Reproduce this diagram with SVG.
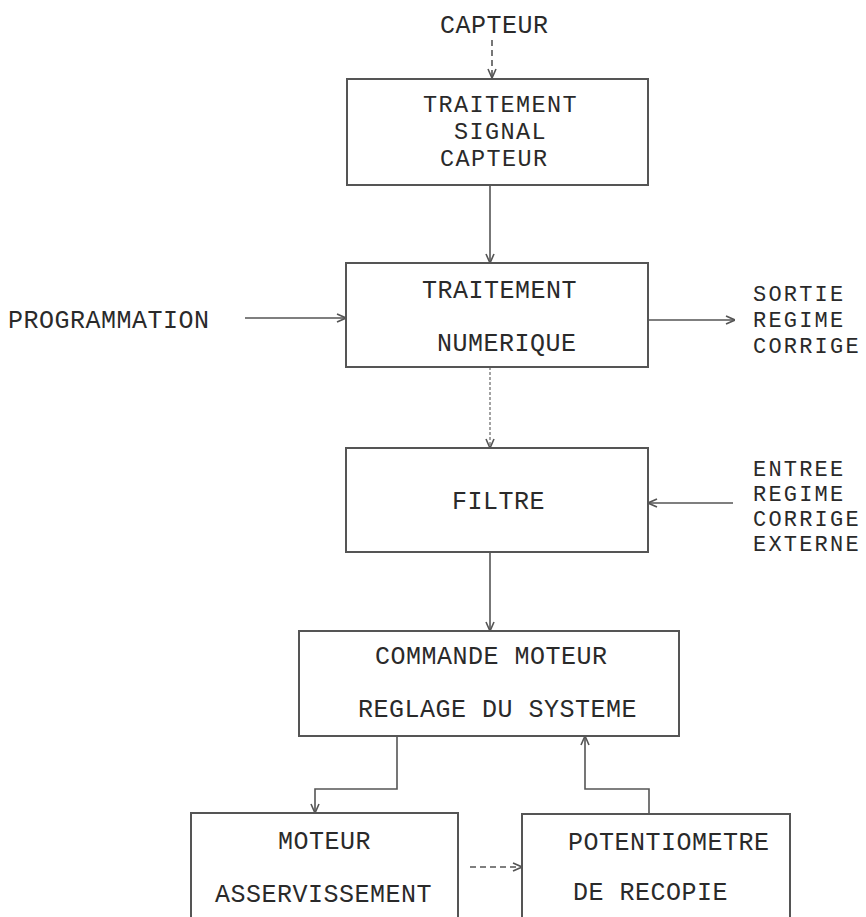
<svg xmlns="http://www.w3.org/2000/svg" width="866" height="917" viewBox="0 0 866 917">
<style>
.box{fill:#fff;stroke:#555;stroke-width:2}
.t{font-family:"Liberation Mono","DejaVu Sans Mono",monospace;font-size:25px;letter-spacing:0.5px;fill:#2a2a2a}
.m{font-family:"Liberation Mono","DejaVu Sans Mono",monospace;font-size:23.5px;letter-spacing:1.4px;fill:#2a2a2a}
.s{font-family:"Liberation Mono","DejaVu Sans Mono",monospace;font-size:22px;letter-spacing:2.2px;fill:#2a2a2a}
.c{fill:none;stroke:#555;stroke-width:1.6}
.d{fill:none;stroke:#555;stroke-width:1.6;stroke-dasharray:6 4}
.dot{fill:none;stroke:#666;stroke-width:1.2;stroke-dasharray:3 2}
</style>
<defs>
<marker id="ah" viewBox="0 0 10 10" refX="10" refY="5" markerWidth="10" markerHeight="10" markerUnits="userSpaceOnUse" orient="auto">
<path d="M1,1 L10,5 L1,9" fill="none" stroke="#555" stroke-width="1.6"/>
</marker>
</defs>
<rect width="866" height="917" fill="#fff"/>
<g id="connectors">
<line class="d" x1="492" y1="40" x2="492" y2="78" marker-end="url(#ah)"/>
<line class="c" x1="490" y1="185" x2="490" y2="263" marker-end="url(#ah)"/>
<line class="c" x1="245" y1="318" x2="346" y2="318" marker-end="url(#ah)"/>
<line class="c" x1="648" y1="320" x2="735" y2="320" marker-end="url(#ah)"/>
<line class="dot" x1="490" y1="367" x2="490" y2="448" marker-end="url(#ah)"/>
<line class="c" x1="733" y1="503" x2="648" y2="503" marker-end="url(#ah)"/>
<line class="c" x1="490" y1="552" x2="490" y2="631" marker-end="url(#ah)"/>
<polyline class="c" points="397,736 397,789 315,789 315,813" marker-end="url(#ah)"/>
<polyline class="c" points="649,814 649,789 585,789 585,736" marker-end="url(#ah)"/>
<line class="d" x1="470" y1="867" x2="522" y2="867" marker-end="url(#ah)"/>
</g>
<g id="capteur-in"><text class="t" x="440" y="33">CAPTEUR</text></g>
<g id="traitement-signal">
<rect class="box" x="347" y="79" width="301" height="106"/>
<text class="m" x="423" y="112">TRAITEMENT</text>
<text class="m" x="454" y="139">SIGNAL</text>
<text class="m" x="440" y="166">CAPTEUR</text>
</g>
<g id="programmation"><text class="t" x="8" y="328">PROGRAMMATION</text></g>
<g id="traitement-numerique">
<rect class="box" x="346" y="263" width="302" height="104"/>
<text class="t" x="422" y="298">TRAITEMENT</text>
<text class="t" x="437" y="351">NUMERIQUE</text>
</g>
<g id="sortie">
<text class="s" x="753" y="301">SORTIE</text>
<text class="s" x="753" y="327">REGIME</text>
<text class="s" x="753" y="353">CORRIGE</text>
</g>
<g id="filtre">
<rect class="box" x="346" y="448" width="302" height="104"/>
<text class="t" x="452" y="509">FILTRE</text>
</g>
<g id="entree">
<text class="s" x="753" y="476">ENTREE</text>
<text class="s" x="753" y="501">REGIME</text>
<text class="s" x="753" y="526">CORRIGE</text>
<text class="s" x="753" y="551">EXTERNE</text>
</g>
<g id="commande-moteur">
<rect class="box" x="299" y="631" width="380" height="105"/>
<text class="t" x="375" y="664">COMMANDE MOTEUR</text>
<text class="t" x="358" y="717">REGLAGE DU SYSTEME</text>
</g>
<g id="moteur">
<path class="box" d="M191,920 L191,813 L458,813 L458,920"/>
<text class="t" x="278" y="849">MOTEUR</text>
<text class="t" x="215" y="902">ASSERVISSEMENT</text>
</g>
<g id="potentiometre">
<path class="box" d="M522,920 L522,814 L790,814 L790,920"/>
<text class="t" x="568" y="850">POTENTIOMETRE</text>
<text class="t" x="573" y="900">DE RECOPIE</text>
</g>
</svg>
